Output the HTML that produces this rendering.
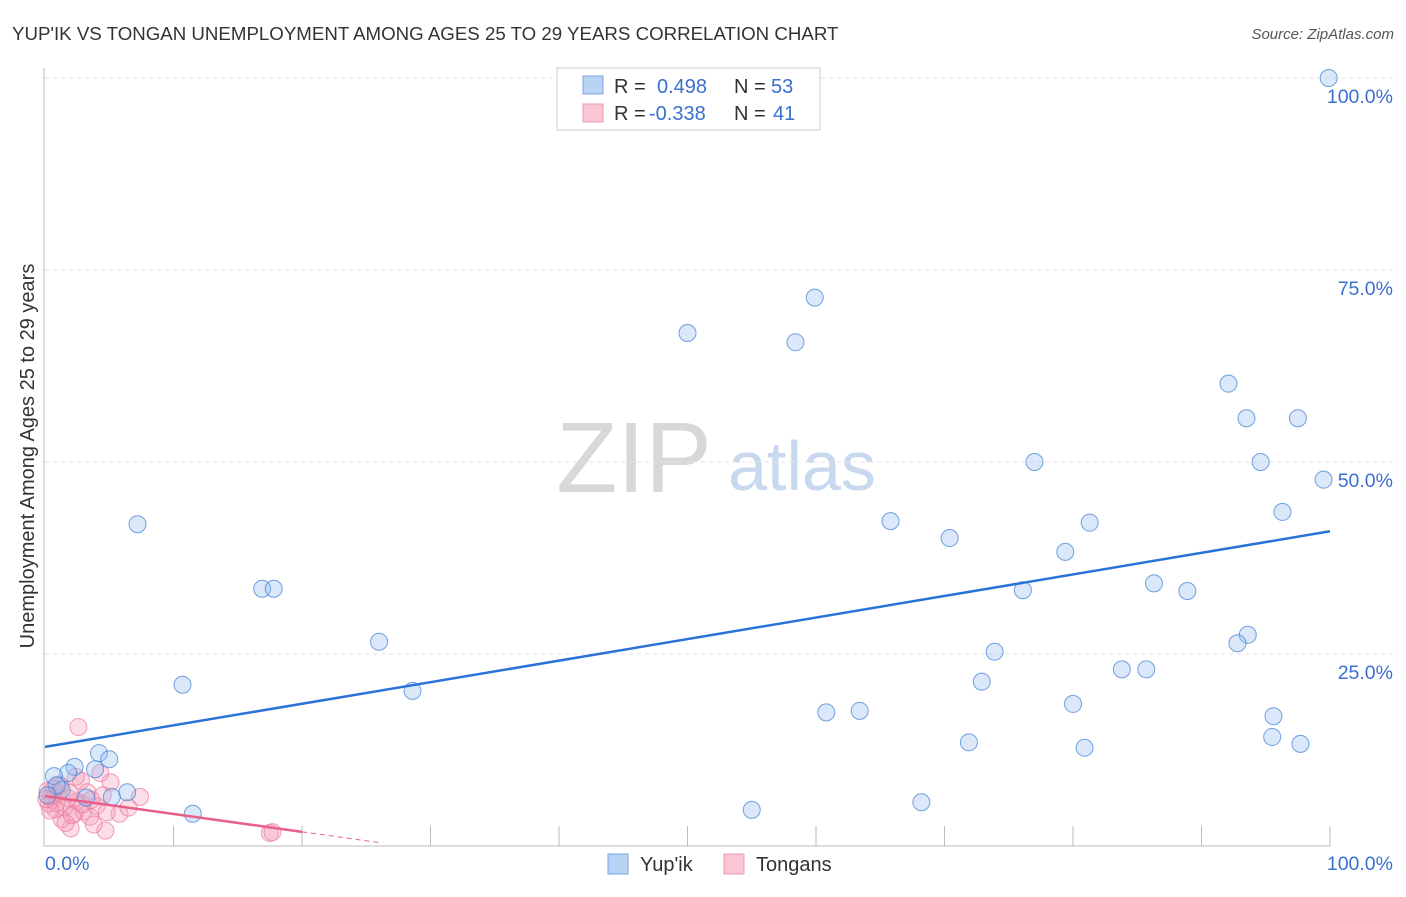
<!DOCTYPE html>
<html><head><meta charset="utf-8"><style>
body{margin:0;background:#fff;font-family:"Liberation Sans",sans-serif;}
svg text{font-family:"Liberation Sans",sans-serif;}
</style></head><body>
<svg id="c" width="1406" height="892" xmlns="http://www.w3.org/2000/svg">
<text x="12" y="40" font-size="18.7" fill="#333">YUP'IK VS TONGAN UNEMPLOYMENT AMONG AGES 25 TO 29 YEARS CORRELATION CHART</text>
<text x="1394" y="39" font-size="15" fill="#555" font-style="italic" text-anchor="end">Source: ZipAtlas.com</text>
<text transform="translate(34,456) rotate(-90)" font-size="20" fill="#333" text-anchor="middle">Unemployment Among Ages 25 to 29 years</text>
<g><text x="634" y="492" font-size="100" fill="#d8d8d8" font-family="Liberation Serif" text-anchor="middle">ZIP</text><text x="802" y="490" font-size="70" fill="#c8d8ee" text-anchor="middle">atlas</text></g>
<g id="grid"></g><g id="marks"></g>
<g>
<rect x="557" y="68" width="263" height="62" fill="#fff" stroke="#ccc"/>
<rect x="583" y="76" width="20" height="18" fill="#b9d3f5" stroke="#7aa6e0"/>
<rect x="583" y="104" width="20" height="18" fill="#f9c6d3" stroke="#ee9ab2"/>
<text x="614" y="93" font-size="20" fill="#333">R = </text><text x="657" y="93" font-size="20" fill="#3a6fd0">0.498</text>
<text x="734" y="93" font-size="20" fill="#333">N = </text><text x="771" y="93" font-size="20" fill="#3a6fd0">53</text>
<text x="614" y="120" font-size="20" fill="#333">R = </text><text x="649" y="120" font-size="20" fill="#3a6fd0">-0.338</text>
<text x="734" y="120" font-size="20" fill="#333">N = </text><text x="773" y="120" font-size="20" fill="#3a6fd0">41</text>
</g>
<g>
<rect x="608" y="854" width="20" height="20" fill="#b9d3f5" stroke="#7aa6e0"/><text x="640" y="871" font-size="20" fill="#333">Yup'ik</text>
<rect x="724" y="854" width="20" height="20" fill="#f9c6d3" stroke="#ee9ab2"/><text x="756" y="871" font-size="20" fill="#333">Tongans</text>
</g>
</svg>
<script>
const yupikX=[99.9,59.9,50.0,58.4,92.1,93.5,97.5,77.0,94.6,99.5,96.3,65.8,81.3,7.2,70.4,79.4,86.3,16.9,17.8,76.1,88.9,93.6,92.8,26.0,73.9,83.8,85.7,10.7,72.9,28.6,80.0,60.8,63.4,95.6,71.9,95.5,80.9,97.7,4.2,5.0,2.3,3.9,1.8,0.7,6.4,5.2,3.2,11.5,55.0,68.2,1.3,0.9,0.2];
const yupikY=[100,71.4,66.8,65.6,60.2,55.7,55.7,50.0,50.0,47.7,43.5,42.3,42.1,41.9,40.1,38.3,34.2,33.5,33.5,33.3,33.2,27.5,26.4,26.6,25.3,23.0,23.0,21.0,21.4,20.2,18.5,17.4,17.6,16.9,13.5,14.2,12.8,13.3,12.1,11.3,10.3,10.0,9.5,9.1,7.0,6.4,6.3,4.2,4.7,5.7,7.3,7.9,6.6];
const tonganX=[2.6,7.4,5.1,4.3,17.5,17.7,4.7,2.0,1.3,2.3,0.3,0.6,1.0,1.5,0.2,0.8,1.8,2.5,3.0,3.5,4.0,1.2,0.5,2.8,3.3,0.9,1.6,2.1,5.8,6.5,4.5,3.8,2.4,1.1,0.4,2.9,3.6,0.7,1.9,4.8,0.1];
const tonganY=[15.5,6.4,8.3,9.5,1.7,1.8,2.0,2.3,3.5,4.2,5.5,6.0,6.8,5.0,7.2,4.8,6.2,5.8,4.5,3.8,5.2,7.8,6.5,8.5,7.0,5.6,3.0,4.0,4.2,5.0,6.6,2.8,9.0,8.0,4.6,5.4,6.0,7.5,6.9,4.4,6.1];
const yTicks=[25,50,75,100];
const xmin=45,xmax=1330,ybase=846,ytop=78;
const X=v=>xmin+(xmax-xmin)*v/100, Y=v=>ybase-(ybase-ytop)*v/100;
const NS='http://www.w3.org/2000/svg';
function mk(p,t,a){const e=document.createElementNS(NS,t);for(const k in a)e.setAttribute(k,a[k]);p.appendChild(e);return e;}
const g=document.getElementById('grid'),m=document.getElementById('marks');
yTicks.forEach(t=>{const l=mk(g,'line',{x1:xmin,x2:1394,y1:Y(t),y2:Y(t),stroke:'#e3e3e3','stroke-dasharray':'4,4'});


const tx=mk(g,'text',{x:1393,y:Y(t)+25,'font-size':19.5,fill:'#3a6fd0','text-anchor':'end'});tx.textContent=t.toFixed(1)+'%';

});
mk(g,'line',{x1:44,x2:44,y1:68,y2:846,stroke:'#bbb'});
mk(g,'line',{x1:44,x2:1330,y1:846,y2:846,stroke:'#bbb'});
for(let i=1;i<=10;i++){const t=mk(g,'line',{x1:X(i*10),x2:X(i*10),y1:826,y2:846,stroke:'#bbb'});

}
const l0=mk(g,'text',{x:45,y:870,'font-size':19.5,fill:'#3a6fd0'});l0.textContent='0.0%';


const l1=mk(g,'text',{x:1393,y:870,'font-size':19.5,fill:'#3a6fd0','text-anchor':'end'});l1.textContent='100.0%';


function fit(xs,ys){const n=xs.length,mx=xs.reduce((a,b)=>a+b)/n,my=ys.reduce((a,b)=>a+b)/n;let sxy=0,sxx=0;xs.forEach((x,i)=>{sxy+=(x-mx)*(ys[i]-my);sxx+=(x-mx)**2});const b=sxy/sxx;return [my-b*mx,b];}
tonganX.forEach((x,i)=>{const c=mk(m,'circle',{cx:X(x),cy:Y(tonganY[i]),r:8.5,fill:'rgba(244,160,185,0.35)',stroke:'rgba(236,120,155,0.7)','stroke-width':1});

});
yupikX.forEach((x,i)=>{const c=mk(m,'circle',{cx:X(x),cy:Y(yupikY[i]),r:8.5,fill:'rgba(150,190,240,0.35)',stroke:'rgba(70,130,215,0.75)','stroke-width':1});

});
const [ba,bb]=fit(yupikX,yupikY);
const bl=mk(m,'line',{x1:X(0),y1:Y(ba),x2:X(100),y2:Y(ba+bb*100),stroke:'#2a72d8','stroke-width':2.5});


const [ta,tb]=fit(tonganX,tonganY);
const pl=mk(m,'line',{x1:X(0),y1:Y(ta),x2:X(20),y2:Y(ta+tb*20),stroke:'#e8608a','stroke-width':2.5});


const pd=mk(m,'line',{x1:X(20),y1:Y(ta+tb*20),x2:X(26),y2:Y(ta+tb*26),stroke:'#e8608a','stroke-width':1,'stroke-dasharray':'5,4'});


</script>
</body></html>
